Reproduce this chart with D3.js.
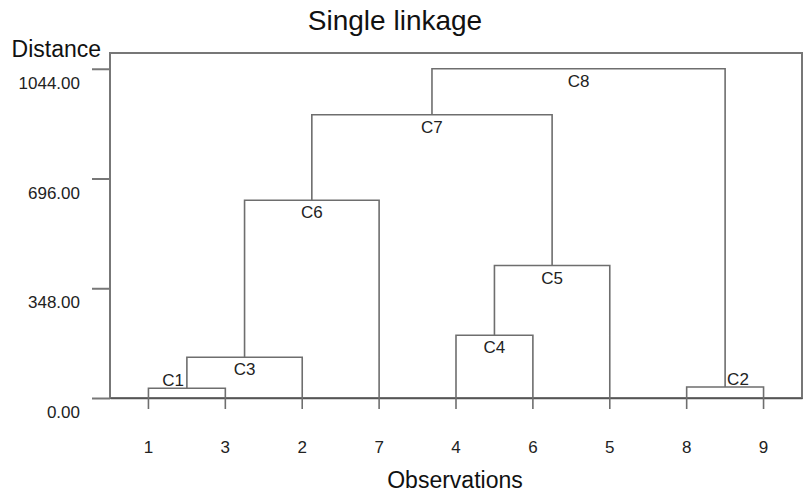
<!DOCTYPE html>
<html><head><meta charset="utf-8">
<script src="https://cdn.jsdelivr.net/npm/d3@7"></script>
<style>body{margin:0;background:#fff}</style>
</head><body><svg id="c" width="807" height="492"></svg>
<script>
const observations = ["1","3","2","7","4","6","5","8","9"];
const clusterNames = ["C1","C2","C3","C4","C5","C6","C7","C8"];
const mergeLeft  = ["1","8","C1","4","C4","C3","C6","C7"];
const mergeRight = ["3","9","2","6","5","7","C5","C2"];
const mergeHeight = [31, 35, 129, 199, 420, 627, 898, 1044];
const yTicks = [0, 348, 696, 1044];
const yMax = 1094;

const svg = d3.select("#c");
const pLeft = 110, pRight = 802, pTop = 53, pBase = 398;
const x = d3.scaleBand().domain(observations).range([pLeft, pRight]).padding(0);
const y = d3.scaleLinear().domain([0, yMax]).range([pBase, pTop]);
const lineColor = "#6e6e6e";
const font = "Liberation Sans, Arial, sans-serif";

// frame
svg.append("rect").attr("x", pLeft).attr("y", pTop).attr("width", pRight-pLeft).attr("height", pBase-pTop)
  .attr("fill", "none").attr("stroke", "#777").attr("stroke-width", 2);

// y axis
const yAx = svg.append("g").attr("transform", `translate(${pLeft},0)`)
  .call(d3.axisLeft(y).tickValues(yTicks).tickFormat(d3.format(".2f")).tickSize(18).tickPadding(12).tickSizeOuter(0));
yAx.select(".domain").remove();
yAx.selectAll("line").attr("stroke", "#777").attr("stroke-width", 2);
yAx.selectAll("text").attr("dy", "1.15em").attr("font-family", font).attr("font-size", 17).attr("fill", "#222");

// x axis
const xAx = svg.append("g").attr("transform", `translate(0,${pBase})`)
  .call(d3.axisBottom(x).tickSize(11).tickPadding(32).tickSizeOuter(0));
xAx.select(".domain").attr("stroke", "#555").attr("stroke-width", 1.6);
xAx.selectAll("line").attr("stroke", lineColor).attr("stroke-width", 1.6);
xAx.selectAll("text").attr("font-family", font).attr("font-size", 17).attr("fill", "#222");

// dendrogram
const pos = {}, hgt = {};
observations.forEach(o => { pos[o] = x(o) + x.bandwidth()/2; hgt[o] = 0; });
const g = svg.append("g").attr("fill", "none").attr("stroke", lineColor).attr("stroke-width", 1.6);
const lab = svg.append("g").attr("font-family", font).attr("font-size", 17).attr("fill", "#222");
clusterNames.forEach((c, i) => {
  const a = mergeLeft[i], b = mergeRight[i], h = mergeHeight[i];
  const xa = pos[a], xb = pos[b];
  g.append("path").attr("d", `M${xa},${y(hgt[a])}V${y(h)}H${xb}V${y(hgt[b])}`);
  pos[c] = (xa + xb) / 2; hgt[c] = h;
  const t = lab.append("text").text(c);
  if (c === "C1") t.attr("x", pos[c] - 3).attr("y", y(h) - 2).attr("text-anchor", "end");
  else if (c === "C2") t.attr("x", pos[c] + 2).attr("y", y(h) - 2).attr("text-anchor", "start");
  else t.attr("x", pos[c]).attr("y", y(h) + 18).attr("text-anchor", "middle");
});

// titles
svg.append("text").attr("x", 395).attr("y", 30).attr("text-anchor", "middle")
  .attr("font-family", font).attr("font-size", 28).attr("fill", "#111").text("Single linkage");
svg.append("text").attr("x", 101).attr("y", 57).attr("text-anchor", "end")
  .attr("font-family", font).attr("font-size", 23).attr("fill", "#111").text("Distance");
svg.append("text").attr("x", 455).attr("y", 488).attr("text-anchor", "middle")
  .attr("font-family", font).attr("font-size", 23).attr("fill", "#111").text("Observations");
</script></body></html>
